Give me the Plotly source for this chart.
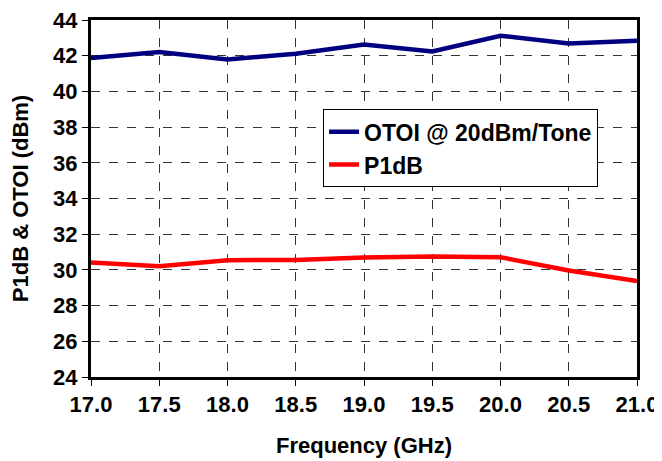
import plotly.graph_objects as go

freq = [17.0, 17.5, 18.0, 18.5, 19.0, 19.5, 20.0, 20.5, 21.0]
otoi = [41.87, 42.20, 41.79, 42.11, 42.62, 42.24, 43.12, 42.69, 42.84]
p1db = [30.42, 30.21, 30.54, 30.56, 30.70, 30.75, 30.71, 29.97, 29.37]
x_ticks = [17.0, 17.5, 18.0, 18.5, 19.0, 19.5, 20.0, 20.5, 21.0]
y_ticks = list(range(24, 45, 2))

font_family = "Liberation Sans"
fs = 22

fig = go.Figure()
fig.add_trace(go.Scatter(x=freq, y=otoi, mode="lines", name="OTOI @ 20dBm/Tone",
                         line=dict(color="#000080", width=4.5)))
fig.add_trace(go.Scatter(x=freq, y=p1db, mode="lines", name="P1dB",
                         line=dict(color="#FF0000", width=4.5)))

fig.update_layout(
    width=654, height=453,
    margin=dict(l=83, r=25, t=12, b=84, autoexpand=False),
    paper_bgcolor="white", plot_bgcolor="white",
    font=dict(family=font_family, size=fs, color="black"),
    showlegend=True,
    legend=dict(x=0.425, y=0.75, xanchor="left", yanchor="top",
                bgcolor="white", bordercolor="black", borderwidth=1,
                font=dict(family=font_family, size=23, color="black", weight="bold"),
                tracegroupgap=0, itemwidth=30),
    xaxis=dict(
        range=[17.0, 21.0], tickvals=x_ticks,
        ticktext=[f"{v:.1f}" for v in x_ticks],
        showgrid=True, gridcolor="#333333", griddash="dash", gridwidth=1,
        showline=True, linecolor="black", linewidth=3, mirror=True,
        ticks="outside", ticklen=6, tickcolor="black", tickwidth=1,
        zeroline=False, automargin=False, ticklabeloverflow="allow",
        tickfont=dict(family=font_family, size=fs, weight="bold"),
        title=dict(text="Frequency (GHz)", standoff=22,
                   font=dict(family=font_family, size=fs, weight="bold")),
    ),
    yaxis=dict(
        range=[24, 44], tickvals=y_ticks,
        showgrid=True, gridcolor="#333333", griddash="dash", gridwidth=1,
        showline=True, linecolor="black", linewidth=3, mirror=True,
        ticks="outside", ticklen=6, tickcolor="black", tickwidth=1,
        zeroline=False, automargin=False, ticklabeloverflow="allow",
        tickfont=dict(family=font_family, size=fs, weight="bold"),
        title=dict(text="P1dB & OTOI (dBm)", standoff=20,
                   font=dict(family=font_family, size=fs, weight="bold")),
    ),
)

fig.write_html("out.html")
